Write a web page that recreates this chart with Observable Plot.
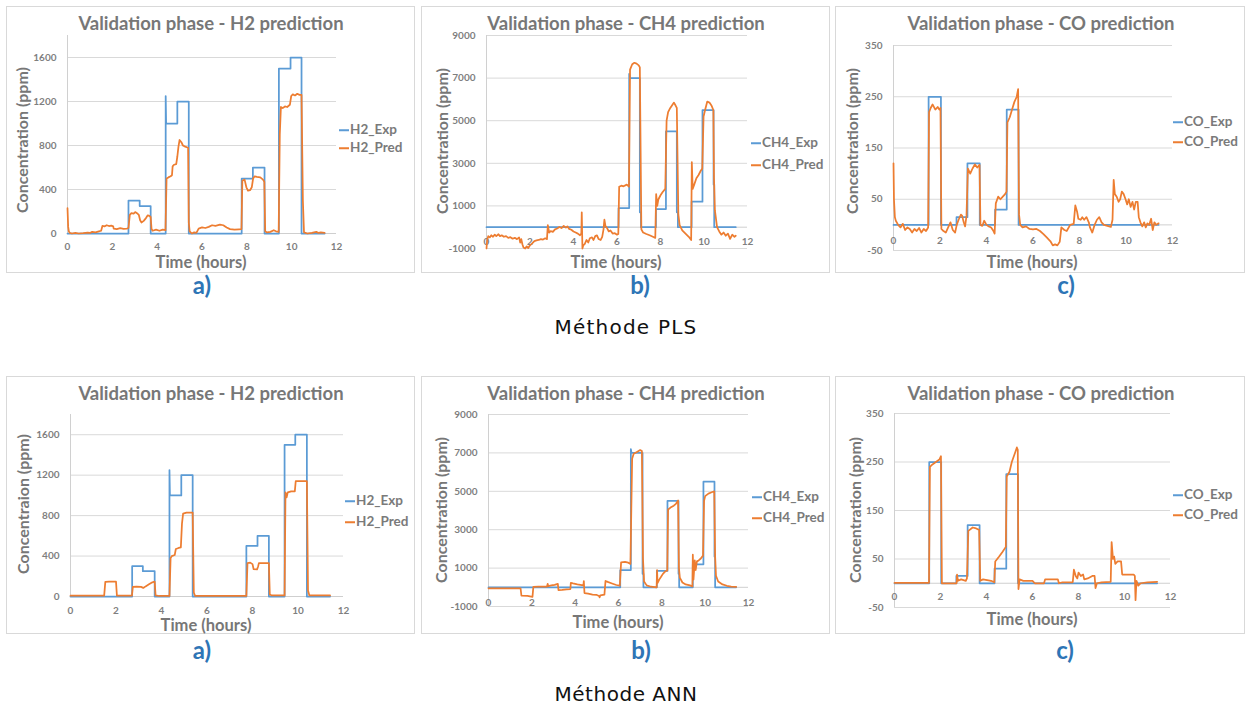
<!DOCTYPE html>
<html><head><meta charset="utf-8">
<script src="https://cdn.jsdelivr.net/npm/d3@7"></script>
<script src="https://cdn.jsdelivr.net/npm/@observablehq/plot@0.6"></script>
<style>
body{margin:0;background:#fff;}
#root{position:relative;width:1253px;height:709px;overflow:hidden;font-family:Lato,sans-serif;background:#fff;}
.box{position:absolute;border:1px solid #d9d9d9;box-sizing:border-box;}
.t{position:absolute;white-space:nowrap;line-height:1;transform:translate(-50%,-50%);}
.title{font-weight:700;font-size:18.5px;color:#777;}
.xl{font-weight:700;font-size:16.5px;color:#777;}
.yl{font-weight:700;font-size:16px;color:#777;transform:translate(-50%,-50%) rotate(-90deg);}
.leg{position:absolute;white-space:nowrap;line-height:1;transform:translateY(-50%);font-weight:700;font-size:13.5px;color:#7a7a7a;display:flex;align-items:center;}
.leg i{display:inline-block;width:10px;height:0;border-top:2px solid;margin-right:1px;}
.letter{font-weight:700;font-size:24px;color:#2E75B6;}
.method{font-family:"DejaVu Sans",sans-serif;font-size:20px;color:#111;}
</style></head>
<body><div id="root"></div>
<script>
// ---------- tick labels ----------
const xTicks = [0, 2, 4, 6, 8, 10, 12];
const h2Ticks = [0, 400, 800, 1200, 1600];
const ch4Ticks = [-1000, 1000, 3000, 5000, 7000, 9000];
const coTicks = [-50, 50, 150, 250, 350];

// ---------- series (time in hours, concentration in ppm) ----------
const h2PlsExp = [[0,0],[2.72,0],[2.72,300],[3.22,300],[3.22,250],[3.71,250],[3.71,0],[4.38,0],[4.38,1250],[4.40,1000],[4.90,1000],[4.90,1200],[5.41,1200],[5.41,0],[7.77,0],[7.77,500],[8.27,500],[8.27,600],[8.79,600],[8.79,0],[9.43,0],[9.43,1500],[9.95,1500],[9.95,1600],[10.44,1600],[10.44,0],[11.47,0]];
const h2PlsPred = [[0,230],[0.03,60],[0.06,20],[0.1,5],[0.2,0],[0.35,5],[0.5,0],[0.7,3],[0.9,8],[1.0,5],[1.1,15],[1.25,10],[1.4,20],[1.5,25],[1.56,70],[1.65,65],[1.75,75],[1.85,68],[1.95,72],[2.04,65],[2.06,45],[2.2,40],[2.35,48],[2.5,42],[2.65,45],[2.72,50],[2.78,170],[2.85,185],[2.95,180],[3.02,195],[3.1,185],[3.18,170],[3.24,120],[3.3,100],[3.4,115],[3.5,140],[3.58,165],[3.65,160],[3.71,150],[3.75,40],[3.8,25],[3.95,35],[4.1,25],[4.25,35],[4.37,30],[4.42,500],[4.5,510],[4.6,520],[4.66,530],[4.69,610],[4.75,625],[4.85,630],[4.9,700],[4.95,790],[5.0,850],[5.08,830],[5.15,800],[5.25,790],[5.38,780],[5.41,100],[5.45,20],[5.55,0],[5.65,10],[5.75,5],[5.85,45],[6.0,55],[6.15,50],[6.3,60],[6.45,75],[6.6,70],[6.8,80],[6.95,75],[7.1,55],[7.25,40],[7.45,35],[7.65,38],[7.76,40],[7.8,480],[7.9,490],[7.98,420],[8.05,390],[8.15,395],[8.22,420],[8.28,500],[8.35,520],[8.45,515],[8.6,510],[8.72,490],[8.78,470],[8.82,20],[8.9,10],[9.05,15],[9.2,30],[9.3,20],[9.42,15],[9.47,900],[9.52,1150],[9.6,1140],[9.7,1155],[9.8,1150],[9.92,1170],[9.98,1250],[10.05,1265],[10.15,1255],[10.25,1270],[10.35,1260],[10.44,1260],[10.5,300],[10.55,10],[10.7,0],[10.9,5],[11.1,15],[11.2,5],[11.3,10],[11.47,5]];

const ch4PlsExp = [[0,0],[6.07,0],[6.07,900],[6.56,900],[6.56,7200],[6.6,7000],[7.05,7000],[7.05,700],[7.1,700],[7.1,0],[7.79,0],[7.79,850],[8.25,850],[8.25,4500],[8.75,4500],[8.75,700],[8.8,700],[8.8,0],[9.43,0],[9.43,1200],[9.93,1200],[9.93,5500],[10.44,5500],[10.44,2000],[10.47,2000],[10.47,0],[11.46,0]];
const ch4PlsPred = [[0,-1000],[0.03,-600],[0.08,-420],[0.15,-480],[0.22,-380],[0.3,-450],[0.38,-350],[0.45,-420],[0.55,-330],[0.62,-420],[0.7,-380],[0.8,-450],[0.9,-420],[1.0,-500],[1.1,-470],[1.2,-540],[1.3,-500],[1.4,-560],[1.5,-480],[1.55,-720],[1.6,-560],[1.65,-800],[1.7,-950],[1.78,-1000],[1.85,-900],[1.92,-980],[2.0,-850],[2.1,-760],[2.2,-650],[2.3,-620],[2.4,-600],[2.5,-560],[2.6,-580],[2.7,-520],[2.78,-560],[2.82,100],[2.88,-250],[2.95,-180],[3.05,-220],[3.15,-100],[3.25,-60],[3.35,10],[3.45,-40],[3.55,60],[3.65,-20],[3.72,40],[3.8,-80],[3.9,-120],[4.0,-200],[4.1,-250],[4.2,-300],[4.3,-380],[4.36,-300],[4.38,700],[4.41,-1000],[4.45,-850],[4.52,-780],[4.6,-600],[4.68,-720],[4.75,-520],[4.85,-480],[4.92,-600],[5.0,-420],[5.08,-380],[5.15,-550],[5.25,-600],[5.32,-450],[5.38,-100],[5.42,350],[5.47,50],[5.55,-50],[5.62,-200],[5.7,-150],[5.8,-300],[5.9,-280],[6.0,-350],[6.06,-320],[6.1,1900],[6.2,1950],[6.3,1920],[6.45,2000],[6.55,1900],[6.6,7400],[6.7,7650],[6.8,7720],[6.9,7680],[7.0,7600],[7.05,7500],[7.12,-100],[7.2,-250],[7.35,-320],[7.5,-380],[7.65,-450],[7.76,-500],[7.8,1550],[7.85,1000],[7.9,1300],[8.0,1500],[8.1,1650],[8.22,1800],[8.28,5000],[8.35,5400],[8.45,5600],[8.55,5750],[8.62,5850],[8.7,5700],[8.75,5600],[8.82,600],[8.88,100],[9.0,-150],[9.15,-300],[9.3,-450],[9.41,-600],[9.44,3050],[9.48,1800],[9.55,2000],[9.65,2300],[9.75,2450],[9.85,2650],[9.92,2750],[9.98,5200],[10.05,5500],[10.15,5900],[10.25,5850],[10.35,5700],[10.43,5500],[10.46,2300],[10.5,800],[10.6,0],[10.7,-200],[10.8,-350],[10.9,-250],[11.0,-400],[11.1,-300],[11.2,-550],[11.3,-350],[11.4,-450],[11.46,-400]];

const coPlsExp = [[0,0],[1.51,0],[1.51,250],[2.04,250],[2.04,0],[2.71,0],[2.71,15],[3.18,15],[3.18,120],[3.71,120],[3.71,0],[4.37,0],[4.37,30],[4.87,30],[4.87,225],[5.38,225],[5.38,0],[11.4,0]];
const coPlsPred = [[0,120],[0.02,50],[0.06,15],[0.1,8],[0.2,0],[0.3,-5],[0.4,2],[0.5,-10],[0.6,-5],[0.7,-8],[0.8,-15],[0.9,-8],[1.0,-12],[1.1,-6],[1.2,-15],[1.3,-8],[1.4,-12],[1.49,-5],[1.53,220],[1.6,228],[1.68,235],[1.8,225],[1.9,230],[1.97,225],[2.02,228],[2.06,-8],[2.15,-12],[2.25,-15],[2.35,-5],[2.45,5],[2.55,-10],[2.65,-15],[2.72,0],[2.8,10],[2.9,20],[2.95,18],[3.02,5],[3.08,-3],[3.14,18],[3.2,110],[3.3,100],[3.4,110],[3.5,118],[3.6,112],[3.7,117],[3.74,0],[3.82,-2],[3.9,8],[4.0,0],[4.1,-3],[4.2,-5],[4.3,-12],[4.35,-17],[4.4,42],[4.5,55],[4.6,50],[4.7,55],[4.8,60],[4.86,65],[4.9,200],[5.0,210],[5.1,225],[5.2,240],[5.3,250],[5.36,265],[5.4,20],[5.45,0],[5.55,-5],[5.7,-3],[5.85,-8],[6.0,-9],[6.15,-8],[6.3,-12],[6.45,-18],[6.6,-25],[6.75,-32],[6.85,-40],[6.95,-38],[7.05,-40],[7.15,-33],[7.22,-5],[7.35,-10],[7.45,-12],[7.6,0],[7.75,2],[7.82,38],[7.9,25],[7.95,12],[8.05,10],[8.12,15],[8.2,10],[8.3,15],[8.4,5],[8.45,-5],[8.55,-15],[8.65,0],[8.75,10],[8.85,15],[8.95,5],[9.05,0],[9.2,-2],[9.35,-4],[9.42,10],[9.47,88],[9.52,60],[9.6,55],[9.68,45],[9.75,50],[9.82,65],[9.9,60],[9.98,50],[10.05,40],[10.12,50],[10.2,35],[10.28,45],[10.35,30],[10.42,45],[10.5,45],[10.55,15],[10.62,5],[10.7,-3],[10.78,5],[10.85,-5],[10.92,3],[11.0,0],[11.08,12],[11.15,-10],[11.22,5],[11.3,0],[11.4,3]];

const h2AnnExp = [[0,0],[2.71,0],[2.71,300],[3.18,300],[3.18,250],[3.70,250],[3.70,0],[4.35,0],[4.35,1250],[4.37,1000],[4.87,1000],[4.87,1200],[5.37,1200],[5.37,0],[7.73,0],[7.73,500],[8.22,500],[8.22,600],[8.72,600],[8.72,0],[9.41,0],[9.41,1500],[9.88,1500],[9.88,1600],[10.39,1600],[10.39,0],[11.41,0]];
const h2AnnPred = [[0,8],[1.48,8],[1.53,145],[1.7,148],[2.0,148],[2.04,8],[2.7,8],[2.74,95],[2.9,98],[3.1,95],[3.2,85],[3.3,100],[3.45,120],[3.6,140],[3.7,148],[3.74,10],[3.9,5],[4.35,5],[4.4,380],[4.45,400],[4.58,410],[4.63,470],[4.75,480],[4.85,485],[4.9,720],[4.95,820],[5.1,830],[5.37,830],[5.42,40],[5.48,5],[6.0,5],[7.73,5],[7.78,330],[7.9,335],[8.0,320],[8.05,270],[8.2,268],[8.25,300],[8.28,330],[8.5,330],[8.72,330],[8.76,20],[8.85,10],[9.41,10],[9.45,1030],[9.5,980],[9.55,1030],[9.7,1040],[9.86,1040],[9.9,1140],[10.1,1140],[10.39,1140],[10.44,60],[10.5,10],[11.41,10]];

const ch4AnnExp = [[0,0],[6.08,0],[6.08,900],[6.57,900],[6.57,7200],[6.6,7000],[7.11,7000],[7.11,700],[7.15,700],[7.15,0],[7.77,0],[7.77,850],[8.26,850],[8.26,4500],[8.77,4500],[8.77,700],[8.8,700],[8.8,0],[9.43,0],[9.43,1200],[9.92,1200],[9.92,5500],[10.43,5500],[10.43,1600],[10.46,1600],[10.46,0],[11.43,0]];
const ch4AnnPred = [[0,-50],[1.48,-50],[1.52,-440],[1.8,-450],[2.03,-500],[2.07,20],[2.3,30],[2.7,40],[2.73,180],[2.76,60],[2.9,100],[3.05,130],[3.2,180],[3.23,-150],[3.4,-140],[3.6,-110],[3.78,-90],[3.8,230],[3.9,200],[4.1,150],[4.38,100],[4.4,320],[4.43,-300],[4.6,-330],[4.8,-380],[5.0,-400],[5.1,-450],[5.13,-520],[5.16,-420],[5.35,-380],[5.4,330],[5.5,280],[5.7,200],[5.9,120],[6.06,90],[6.12,1300],[6.3,1320],[6.45,1280],[6.55,1220],[6.63,6700],[6.7,6950],[6.85,7050],[7.0,7150],[7.08,7100],[7.13,1500],[7.18,300],[7.3,100],[7.5,30],[7.76,0],[7.78,900],[7.8,220],[7.88,400],[7.95,520],[8.05,700],[8.15,820],[8.25,880],[8.29,4050],[8.4,4150],[8.55,4250],[8.65,4350],[8.75,4520],[8.79,1000],[8.83,500],[8.95,250],[9.1,150],[9.3,100],[9.41,50],[9.43,1700],[9.46,400],[9.52,1400],[9.56,900],[9.62,1350],[9.7,1400],[9.8,1500],[9.9,1650],[9.95,4500],[10.0,4750],[10.15,4880],[10.3,4950],[10.42,5000],[10.46,1600],[10.5,600],[10.6,300],[10.8,150],[11.0,80],[11.2,40],[11.43,20]];

const coAnnExp = [[0,0],[1.51,0],[1.51,250],[2.03,250],[2.03,0],[2.69,0],[2.69,15],[3.18,15],[3.18,120],[3.70,120],[3.70,0],[4.35,0],[4.35,30],[4.86,30],[4.86,225],[5.37,225],[5.37,0],[11.42,0]];
const coAnnPred = [[0,1],[1.5,1],[1.54,240],[1.65,245],[1.8,250],[1.95,255],[2.02,262],[2.06,0],[2.7,0],[2.72,18],[2.76,5],[2.9,8],[3.1,5],[3.15,10],[3.21,108],[3.4,115],[3.55,113],[3.68,110],[3.73,5],[3.85,8],[4.2,5],[4.34,2],[4.38,45],[4.55,55],[4.7,65],[4.84,75],[4.88,220],[5.0,230],[5.1,250],[5.25,270],[5.32,280],[5.36,275],[5.39,-12],[5.44,8],[5.6,5],[6.0,5],[6.1,0],[6.5,0],[6.55,8],[7.1,8],[7.15,0],[7.3,2],[7.75,2],[7.8,28],[7.88,15],[7.95,10],[8.0,22],[8.1,15],[8.2,18],[8.25,8],[8.4,10],[8.6,15],[8.7,15],[8.74,-10],[8.8,0],[9.0,2],[9.4,3],[9.44,85],[9.5,50],[9.55,55],[9.6,40],[9.7,45],[9.85,45],[9.9,18],[10.4,18],[10.45,15],[10.48,-35],[10.52,5],[10.6,-5],[10.7,0],[11.0,2],[11.42,3]];

// ---------- texts ----------
const titles = ["Validation phase - H2 prediction", "Validation phase - CH4 prediction", "Validation phase - CO prediction"];
const seriesNames = [["H2_Exp","H2_Pred"],["CH4_Exp","CH4_Pred"],["CO_Exp","CO_Pred"]];
const xLabel = "Time (hours)";
const yLabels = ["Concentration (ppm)", "Concentraion (ppm)"];
const letters = ["a)", "b)", "c)"];
const methods = ["Méthode PLS", "Méthode ANN"];

// ---------- layout ----------
const panels = [
  {box:[6,6,415,273], x0:67, x12:336, yTop:35, yBot:233, dom:[0,1800], yt:h2Ticks, grid:[400,800,1200,1600], exp:h2PlsExp, pred:h2PlsPred, k:0, title:[211,23], xl:[201,262], yl:[22,140], ylab:yLabels[0], leg:[339,130,148], letter:[202,285], xdy:13},
  {box:[421,6,830,273], x0:486, x12:747, yTop:35, yBot:248, dom:[-1000,9000], yt:ch4Ticks, grid:ch4Ticks, exp:ch4PlsExp, pred:ch4PlsPred, k:1, title:[626,23], xl:[616,262], yl:[442,141], ylab:yLabels[0], leg:[751,143,165], letter:[640,285], xdy:15},
  {box:[835,6,1245,273], x0:893, x12:1172, yTop:45, yBot:250, dom:[-50,350], yt:coTicks, grid:coTicks, exp:coPlsExp, pred:coPlsPred, k:2, title:[1041,23], xl:[1032,262], yl:[852,141], ylab:yLabels[0], leg:[1173,122,142], letter:[1066,285], xdy:16},
  {box:[6,376,415,634], x0:70, x12:343, yTop:414, yBot:596, dom:[0,1800], yt:h2Ticks, grid:[400,800,1200,1600], exp:h2AnnExp, pred:h2AnnPred, k:0, title:[211,393], xl:[206,625], yl:[23,504], ylab:yLabels[1], leg:[345,501,522], letter:[202,650], xdy:14},
  {box:[421,376,830,634], x0:488, x12:748, yTop:414, yBot:606, dom:[-1000,9000], yt:ch4Ticks, grid:ch4Ticks, exp:ch4AnnExp, pred:ch4AnnPred, k:1, title:[626,393], xl:[618,622], yl:[441,510], ylab:yLabels[0], leg:[752,497,518], letter:[641,650], xdy:15},
  {box:[835,376,1245,634], x0:894, x12:1170, yTop:413, yBot:607, dom:[-50,350], yt:coTicks, grid:coTicks, exp:coAnnExp, pred:coAnnPred, k:2, title:[1041,393], xl:[1032,619], yl:[855,510], ylab:yLabels[0], leg:[1173,495,515], letter:[1065,650], xdy:14}
];

const root = document.getElementById("root");
function addText(txt, x, y, cls) {
  const d = document.createElement("div");
  d.className = "t " + cls;
  d.textContent = txt;
  d.style.left = x + "px"; d.style.top = y + "px";
  root.appendChild(d);
  return d;
}
const BLUE = "#5B9BD5", ORANGE = "#ED7D31";

panels.forEach(p => {
  const b = document.createElement("div");
  b.className = "box";
  b.style.left = p.box[0] + "px"; b.style.top = p.box[1] + "px";
  b.style.width = (p.box[2] - p.box[0]) + "px"; b.style.height = (p.box[3] - p.box[1]) + "px";
  root.appendChild(b);

  const mL = 45, mR = 12, mT = 12, mB = 24;
  const svg = Plot.plot({
    width: p.x12 - p.x0 + mL + mR,
    height: p.yBot - p.yTop + mT + mB,
    marginLeft: mL, marginRight: mR, marginTop: mT, marginBottom: mB,
    x: {domain: [0, 12], axis: null},
    y: {domain: p.dom, axis: null},
    style: {fontFamily: "Lato, sans-serif", background: "transparent", overflow: "visible"},
    marks: [
      Plot.ruleY(p.grid, {stroke: "#d9d9d9", strokeOpacity: 1, strokeWidth: 1}),
      Plot.ruleX([0], {stroke: "#d0d0d0", strokeWidth: 1}),
      Plot.ruleY([0], {stroke: "#cfcfcf", strokeWidth: 1}),
      Plot.text(p.yt, {y: d => d, text: d => String(d), frameAnchor: "left", dx: -11, textAnchor: "end", fontSize: 10, fontWeight: 700, fill: "#7f7f7f"}),
      Plot.text(xTicks, {x: d => d, y: () => 0, text: d => String(d), dy: p.xdy, fontSize: 10, fontWeight: 700, fill: "#7f7f7f"}),
      Plot.line(p.exp, {x: d => d[0], y: d => d[1], stroke: BLUE, strokeWidth: 1.75, strokeLinejoin: "round"}),
      Plot.line(p.pred, {x: d => d[0], y: d => d[1], stroke: ORANGE, strokeWidth: 1.75, strokeLinejoin: "round"})
    ]
  });
  svg.style.position = "absolute";
  svg.style.left = (p.x0 - mL) + "px";
  svg.style.top = (p.yTop - mT) + "px";
  svg.style.maxWidth = "none";
  root.appendChild(svg);

  addText(titles[p.k], p.title[0], p.title[1], "title");
  addText(xLabel, p.xl[0], p.xl[1], "xl");
  addText(p.ylab, p.yl[0], p.yl[1], "yl");
  addText(letters[p.k], p.letter[0], p.letter[1], "letter");
  [[seriesNames[p.k][0], BLUE, p.leg[1]], [seriesNames[p.k][1], ORANGE, p.leg[2]]].forEach(([name, col, y]) => {
    const d = document.createElement("div");
    d.className = "leg";
    d.style.left = p.leg[0] + "px"; d.style.top = y + "px";
    const i = document.createElement("i"); i.style.borderColor = col;
    d.appendChild(i);
    d.appendChild(document.createTextNode(name));
    root.appendChild(d);
  });
});

const m1 = addText(methods[0], 626, 327, "method");
const m2 = addText(methods[1], 626, 694, "method");
[m1, m2].forEach(m => {
  const w = m.getBoundingClientRect().width;
  m.style.letterSpacing = Math.max(0, (143 - w) / m.textContent.length) + "px";
});
</script>
</body></html>
